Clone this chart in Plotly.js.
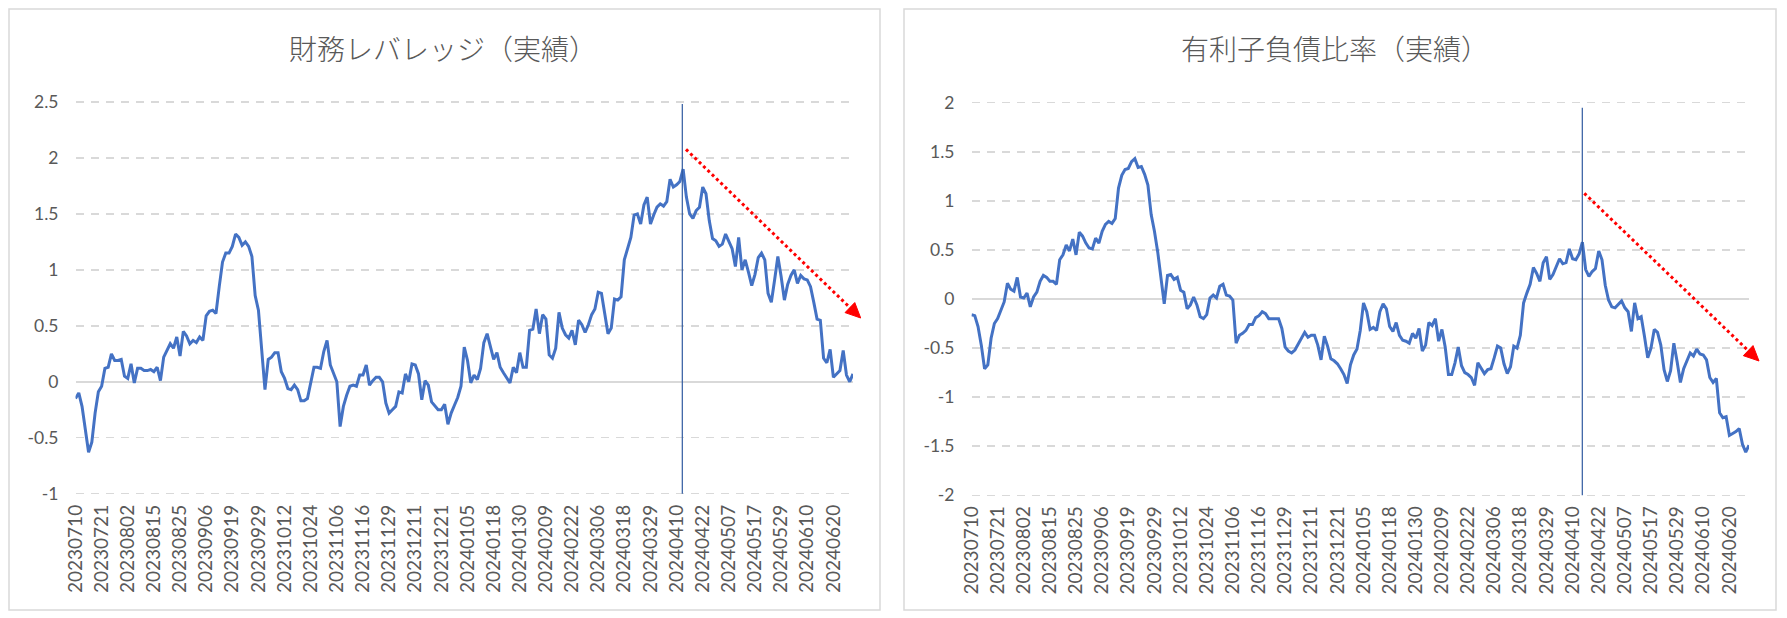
<!DOCTYPE html>
<html><head><meta charset="utf-8">
<script src="https://cdn.plot.ly/plotly-3.0.1.min.js"></script>
<style>html,body{margin:0;padding:0;background:#fff;overflow:hidden}#chart{width:1787px;height:618px}</style>
</head><body><div id="chart"></div>
<script>
// ---- data ----
const dates = [
"20230710","20230711","20230712","20230713","20230714","20230718","20230719","20230720","20230721","20230724","20230725","20230726","20230727","20230728","20230731",
"20230801","20230802","20230803","20230804","20230807","20230808","20230809","20230810","20230814","20230815","20230816","20230817","20230818","20230821","20230822","20230823","20230824","20230825","20230828","20230829","20230830","20230831",
"20230901","20230904","20230905","20230906","20230907","20230908","20230911","20230912","20230913","20230914","20230915","20230919","20230920","20230921","20230922","20230925","20230926","20230927","20230928","20230929",
"20231002","20231003","20231004","20231005","20231006","20231010","20231011","20231012","20231013","20231016","20231017","20231018","20231019","20231020","20231023","20231024","20231025","20231026","20231027","20231030","20231031",
"20231101","20231102","20231106","20231107","20231108","20231109","20231110","20231113","20231114","20231115","20231116","20231117","20231120","20231121","20231122","20231124","20231127","20231128","20231129","20231130",
"20231201","20231204","20231205","20231206","20231207","20231208","20231211","20231212","20231213","20231214","20231215","20231218","20231219","20231220","20231221","20231222","20231225","20231226","20231227","20231228","20231229",
"20240104","20240105","20240109","20240110","20240111","20240112","20240115","20240116","20240117","20240118","20240119","20240122","20240123","20240124","20240125","20240126","20240129","20240130","20240131",
"20240201","20240202","20240205","20240206","20240207","20240208","20240209","20240213","20240214","20240215","20240216","20240219","20240220","20240221","20240222","20240226","20240227","20240228","20240229",
"20240301","20240304","20240305","20240306","20240307","20240308","20240311","20240312","20240313","20240314","20240315","20240318","20240319","20240321","20240322","20240325","20240326","20240327","20240328","20240329",
"20240401","20240402","20240403","20240404","20240405","20240408","20240409","20240410","20240411","20240412","20240415","20240416","20240417","20240418","20240419","20240422","20240423","20240424","20240425","20240426","20240430",
"20240501","20240502","20240507","20240508","20240509","20240510","20240513","20240514","20240515","20240516","20240517","20240520","20240521","20240522","20240523","20240524","20240527","20240528","20240529","20240530","20240531",
"20240603","20240604","20240605","20240606","20240607","20240610","20240611","20240612","20240613","20240614","20240617","20240618","20240619","20240620","20240621","20240624","20240625","20240626","20240627","20240628"
];

const tickLabels = ["20230710","20230721","20230802","20230815","20230825","20230906","20230919","20230929","20231012","20231024","20231106","20231116","20231129","20231211","20231221","20240105","20240118","20240130","20240209","20240222","20240306","20240318","20240329","20240410","20240422","20240507","20240517","20240529","20240610","20240620"];

// 財務レバレッジ（実績）
const leverage = [
-0.15,-0.10,-0.22,-0.43,-0.63,-0.54,-0.28,-0.09,-0.04,0.12,
0.13,0.25,0.19,0.19,0.20,0.05,0.03,0.16,-0.01,0.12,
0.12,0.10,0.10,0.11,0.09,0.13,0.01,0.22,0.28,0.34,
0.30,0.40,0.23,0.45,0.41,0.34,0.37,0.35,0.40,0.37,
0.59,0.63,0.64,0.61,0.85,1.07,1.15,1.15,1.21,1.32,
1.29,1.22,1.25,1.21,1.12,0.77,0.64,0.31,-0.07,0.20,
0.22,0.26,0.26,0.09,0.03,-0.06,-0.07,-0.03,-0.07,-0.17,
-0.17,-0.15,-0.01,0.13,0.13,0.12,0.27,0.37,0.15,0.07,
0.00,-0.40,-0.22,-0.12,-0.04,-0.03,-0.04,0.06,0.06,0.15,
-0.03,0.01,0.04,0.04,0.00,-0.19,-0.28,-0.25,-0.22,-0.09,
-0.10,0.07,0.00,0.16,0.15,0.07,-0.16,0.01,-0.03,-0.18,
-0.22,-0.25,-0.25,-0.20,-0.38,-0.28,-0.21,-0.14,-0.04,0.31,
0.19,-0.01,0.06,0.02,0.12,0.35,0.43,0.30,0.20,0.26,
0.13,0.08,0.03,-0.01,0.13,0.08,0.26,0.13,0.13,0.46,
0.47,0.65,0.43,0.60,0.56,0.24,0.21,0.30,0.62,0.48,
0.42,0.39,0.46,0.33,0.55,0.51,0.44,0.51,0.60,0.65,
0.80,0.79,0.61,0.43,0.48,0.74,0.73,0.76,1.09,1.19,
1.29,1.49,1.50,1.41,1.58,1.65,1.41,1.49,1.56,1.59,
1.57,1.61,1.81,1.74,1.76,1.79,1.90,1.65,1.50,1.46,
1.53,1.56,1.74,1.68,1.44,1.28,1.26,1.21,1.23,1.32,
1.25,1.19,1.03,1.29,1.00,1.09,0.98,0.86,0.96,1.11,
1.15,1.09,0.79,0.71,0.91,1.12,0.94,0.73,0.87,0.95,
1.00,0.88,0.95,0.92,0.91,0.85,0.71,0.56,0.55,0.21,
0.17,0.29,0.04,0.07,0.10,0.28,0.06,0.00,0.07
];

// 有利子負債比率（実績）
const debtRatio = [
-0.16,-0.17,-0.28,-0.47,-0.71,-0.67,-0.40,-0.25,-0.20,-0.11,
-0.03,0.16,0.10,0.08,0.22,0.02,0.01,0.06,-0.08,0.02,
0.07,0.18,0.24,0.22,0.18,0.18,0.15,0.40,0.45,0.55,
0.49,0.61,0.45,0.68,0.64,0.57,0.52,0.51,0.62,0.57,
0.69,0.76,0.79,0.77,0.82,1.13,1.26,1.32,1.33,1.40,
1.43,1.34,1.35,1.27,1.16,0.86,0.69,0.48,0.21,-0.05,
0.24,0.25,0.20,0.22,0.09,0.07,-0.10,-0.06,0.02,-0.06,
-0.18,-0.20,-0.16,0.01,0.04,0.01,0.13,0.15,0.04,0.03,
-0.01,-0.45,-0.37,-0.35,-0.32,-0.26,-0.26,-0.19,-0.17,-0.13,
-0.15,-0.20,-0.20,-0.20,-0.20,-0.30,-0.49,-0.53,-0.55,-0.52,
-0.46,-0.40,-0.34,-0.39,-0.37,-0.37,-0.47,-0.62,-0.38,-0.48,
-0.61,-0.63,-0.66,-0.71,-0.77,-0.86,-0.67,-0.57,-0.51,-0.32,
-0.04,-0.13,-0.31,-0.29,-0.32,-0.13,-0.05,-0.10,-0.28,-0.33,
-0.24,-0.37,-0.42,-0.43,-0.45,-0.35,-0.40,-0.30,-0.53,-0.47,
-0.24,-0.27,-0.20,-0.43,-0.31,-0.49,-0.77,-0.77,-0.65,-0.49,
-0.68,-0.75,-0.77,-0.80,-0.88,-0.65,-0.71,-0.76,-0.72,-0.71,
-0.60,-0.48,-0.50,-0.66,-0.76,-0.69,-0.48,-0.50,-0.37,-0.04,
0.06,0.15,0.32,0.26,0.18,0.37,0.43,0.20,0.25,0.33,
0.41,0.36,0.37,0.51,0.41,0.40,0.46,0.58,0.30,0.23,
0.28,0.31,0.49,0.40,0.14,-0.01,-0.08,-0.09,-0.06,-0.02,
-0.09,-0.13,-0.33,-0.04,-0.20,-0.18,-0.38,-0.60,-0.50,-0.31,
-0.34,-0.47,-0.72,-0.84,-0.73,-0.45,-0.64,-0.85,-0.71,-0.62,
-0.55,-0.58,-0.51,-0.56,-0.57,-0.62,-0.80,-0.85,-0.81,-1.16,
-1.21,-1.20,-1.39,-1.37,-1.35,-1.32,-1.48,-1.56,-1.49
];

const titles = ["財務レバレッジ（実績）", "有利子負債比率（実績）"];
const yTicks1 = [-1, -0.5, 0, 0.5, 1, 1.5, 2, 2.5];
const yTickText1 = ["-1", "-0.5", "0", "0.5", "1", "1.5", "2", "2.5"];
const yTicks2 = [-2, -1.5, -1, -0.5, 0, 0.5, 1, 1.5, 2];
const yTickText2 = ["-2", "-1.5", "-1", "-0.5", "0", "0.5", "1", "1.5", "2"];

// ---- layout helpers (pixel -> paper) ----
const W = 1787, H = 618;
const px = x => x / W;
const py = y => 1 - y / H;

const LINE = '#4472C4', GRID = '#D9D9D9', TXT = '#595959';
const tickFontX = {family: 'Lato, "Liberation Sans", sans-serif', size: 19, color: TXT};
const tickFontY = {family: 'Lato, "Liberation Sans", sans-serif', size: 17.5, color: TXT};
const titleFont = {family: '"Noto Sans CJK JP", sans-serif', size: 28, color: TXT, weight: 300};

function xAxis(domain, anchor) {
  return {
    domain: domain, anchor: anchor, type: 'category',
    categoryorder: 'array', categoryarray: dates,
    range: [0, dates.length - 1],
    tickmode: 'array', tickvals: tickLabels, ticktext: tickLabels,
    tickangle: -90, tickfont: tickFontX, ticks: '', ticklabelstandoff: 5,
    showgrid: false, showline: false, zeroline: false, fixedrange: true
  };
}
// y axis: value range padded slightly so the end gridlines are drawn
function yAxis(anchor, lo, hi, pyLo, pyHi, tv, tt) {
  const pad = 0.012, ppu = (pyLo - pyHi) / (hi - lo);
  return {
    domain: [py(pyLo + pad * ppu), py(pyHi - pad * ppu)], anchor: anchor,
    range: [lo - pad, hi + pad],
    tickmode: 'array', tickvals: tv, ticktext: tt, tickfont: tickFontY,
    ticks: '', ticklabelstandoff: 16,
    showgrid: true, gridcolor: GRID, gridwidth: 1.5, griddash: '8px,7px',
    zeroline: true, zerolinecolor: GRID, zerolinewidth: 2,
    showline: false, fixedrange: true
  };
}

const traces = [
  {x: dates, y: leverage, xaxis: 'x', yaxis: 'y', type: 'scatter', mode: 'lines',
   line: {color: LINE, width: 3}, hoverinfo: 'skip'},
  {x: dates, y: debtRatio, xaxis: 'x2', yaxis: 'y2', type: 'scatter', mode: 'lines',
   line: {color: LINE, width: 3}, hoverinfo: 'skip'}
];

// trend arrow (red dotted) : start and tip in pixels
function arrowShapes(x0, y0, xt, yt) {
  const dx = xt - x0, dy = yt - y0, L = Math.hypot(dx, dy);
  const ux = dx / L, uy = dy / L, hl = 15, hw = 7;
  const bx = xt - ux * hl, by = yt - uy * hl;
  const p1 = [bx - uy * hw, by + ux * hw], p2 = [bx + uy * hw, by - ux * hw];
  return [
    {type: 'line', xref: 'paper', yref: 'paper', x0: px(x0), y0: py(y0), x1: px(bx + ux * 2), y1: py(by + uy * 2),
     line: {color: '#FF0000', width: 3, dash: 'dot'}, layer: 'above'},
    {type: 'path', xref: 'paper', yref: 'paper',
     path: `M ${px(xt)} ${py(yt)} L ${px(p1[0])} ${py(p1[1])} L ${px(p2[0])} ${py(p2[1])} Z`,
     fillcolor: '#FF0000', line: {color: '#FF0000', width: 1}, layer: 'above'}
  ];
}

const shapes = [
  // chart borders
  {type: 'rect', xref: 'paper', yref: 'paper', x0: px(9), x1: px(880), y0: py(610), y1: py(9),
   line: {color: GRID, width: 1.5}, layer: 'below'},
  {type: 'rect', xref: 'paper', yref: 'paper', x0: px(904), x1: px(1776), y0: py(610), y1: py(9),
   line: {color: GRID, width: 1.5}, layer: 'below'},
  // vertical marker lines
  {type: 'line', xref: 'paper', yref: 'paper', x0: px(682.3), x1: px(682.3), y0: py(104), y1: py(493.7),
   line: {color: '#2F5AA0', width: 1.2}, layer: 'above'},
  {type: 'line', xref: 'paper', yref: 'paper', x0: px(1582.3), x1: px(1582.3), y0: py(107.7), y1: py(495.3),
   line: {color: '#2F5AA0', width: 1.2}, layer: 'above'},
  ...arrowShapes(686, 149.3, 860.7, 318),
  ...arrowShapes(1584.3, 193.3, 1759, 361)
];

const annotations = [
  {text: titles[0], xref: 'paper', yref: 'paper', x: px(443), y: py(48), xanchor: 'center', yanchor: 'middle',
   showarrow: false, font: titleFont},
  {text: titles[1], xref: 'paper', yref: 'paper', x: px(1335), y: py(48), xanchor: 'center', yanchor: 'middle',
   showarrow: false, font: titleFont}
];

const layout = {
  width: W, height: H, margin: {l: 0, r: 0, t: 0, b: 0, pad: 0},
  paper_bgcolor: '#FFFFFF', plot_bgcolor: 'rgba(0,0,0,0)', showlegend: false,
  xaxis: xAxis([px(75.5), px(853)], 'y'),
  yaxis: yAxis('x', -1, 2.5, 493.7, 102, yTicks1, yTickText1),
  xaxis2: xAxis([px(971.5), px(1749)], 'y2'),
  yaxis2: yAxis('x2', -2, 2, 495.3, 102.7, yTicks2, yTickText2),
  shapes: shapes, annotations: annotations
};

Plotly.newPlot('chart', traces, layout, {displayModeBar: false, staticPlot: true});
</script>
</body></html>
